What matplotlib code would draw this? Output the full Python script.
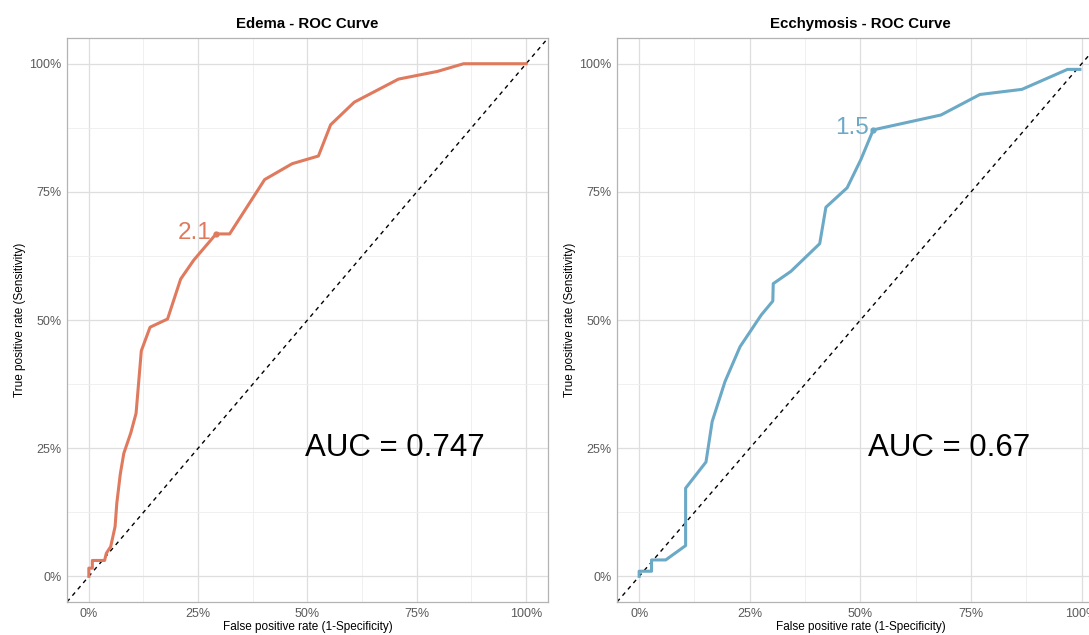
import matplotlib.pyplot as plt
from matplotlib.ticker import FuncFormatter

plt.rcParams['font.family'] = ['Liberation Sans', 'DejaVu Sans']

# ROC points (fpr, tpr)
edema_fpr = [0.0, 0.0, 0.008, 0.008, 0.036, 0.040, 0.050, 0.060, 0.064, 0.072, 0.080, 0.096,
             0.108, 0.120, 0.140, 0.180, 0.210, 0.240, 0.291, 0.322, 0.402, 0.465, 0.525,
             0.553, 0.607, 0.708, 0.797, 0.857, 1.0]
edema_tpr = [0.0, 0.016, 0.016, 0.031, 0.031, 0.045, 0.058, 0.097, 0.143, 0.200, 0.240, 0.280,
             0.318, 0.440, 0.486, 0.502, 0.580, 0.617, 0.668, 0.668, 0.774, 0.805, 0.820,
             0.881, 0.925, 0.970, 0.985, 1.0, 1.0]
edema_best = (0.291, 0.668, '2.1')
edema_auc = 0.747

ecchy_fpr = [0.0, 0.0, 0.028, 0.028, 0.060, 0.105, 0.105, 0.151, 0.165, 0.194, 0.228, 0.276,
             0.302, 0.303, 0.343, 0.408, 0.422, 0.470, 0.501, 0.529, 0.682, 0.770, 0.865,
             0.968, 0.996]
ecchy_tpr = [0.0, 0.010, 0.010, 0.032, 0.032, 0.060, 0.172, 0.223, 0.302, 0.380, 0.448, 0.510,
             0.537, 0.571, 0.595, 0.649, 0.720, 0.758, 0.813, 0.871, 0.900, 0.940, 0.950,
             0.989, 0.989]
ecchy_best = (0.529, 0.871, '1.5')
ecchy_auc = 0.67

panels = [
    ('Edema - ROC Curve', edema_fpr, edema_tpr, edema_best, edema_auc, '#DF7A5E'),
    ('Ecchymosis - ROC Curve', ecchy_fpr, ecchy_tpr, ecchy_best, ecchy_auc, '#6BA9C6'),
]
positions = [[0.0615, 0.052, 0.4417, 0.888], [0.5666, 0.052, 0.447, 0.888]]

fig = plt.figure(figsize=(10.89, 6.35), dpi=100)

pct = FuncFormatter(lambda v, p: f'{v * 100:.0f}%')

for (title, fpr, tpr, best, auc, color), pos in zip(panels, positions):
    ax = fig.add_axes(pos)
    ax.set_xlim(-0.05, 1.05)
    ax.set_ylim(-0.05, 1.05)
    ax.set_xticks([0, 0.25, 0.5, 0.75, 1.0])
    ax.set_yticks([0, 0.25, 0.5, 0.75, 1.0])
    ax.set_xticks([0.125, 0.375, 0.625, 0.875], minor=True)
    ax.set_yticks([0.125, 0.375, 0.625, 0.875], minor=True)
    ax.xaxis.set_major_formatter(pct)
    ax.yaxis.set_major_formatter(pct)
    ax.grid(which='major', color='#DEDEDE', linewidth=0.9)
    ax.grid(which='minor', color='#EEEEEE', linewidth=0.6)
    ax.set_axisbelow(True)
    ax.tick_params(which='both', length=0, labelsize=9, labelcolor='#5A5A5A', pad=4)
    for s in ax.spines.values():
        s.set_color('#B3B3B3')
        s.set_linewidth(0.9)

    ax.plot([-0.05, 1.05], [-0.05, 1.05], color='black', linestyle=(0, (3, 3)), linewidth=1.0)
    ax.plot(fpr, tpr, color=color, linewidth=2.2, solid_joinstyle='round')
    ax.plot(best[0], best[1], 'o', color=color, markersize=3.5)
    ax.annotate(best[2], (best[0], best[1]), xytext=(-3, 1), textcoords='offset points',
                ha='right', va='center', fontsize=17.5, color=color)
    ax.text(0.70, 0.25, f'AUC = {auc}', ha='center', va='center', fontsize=22.5, color='black')

    ax.set_title(title, fontsize=10.8, fontweight='bold', pad=7)
    ax.set_xlabel('False positive rate (1-Specificity)', fontsize=8.5, labelpad=1)
    ax.set_ylabel('True positive rate (Sensitivity)', fontsize=8.5, labelpad=2)

fig.savefig('out.png', dpi=100)
